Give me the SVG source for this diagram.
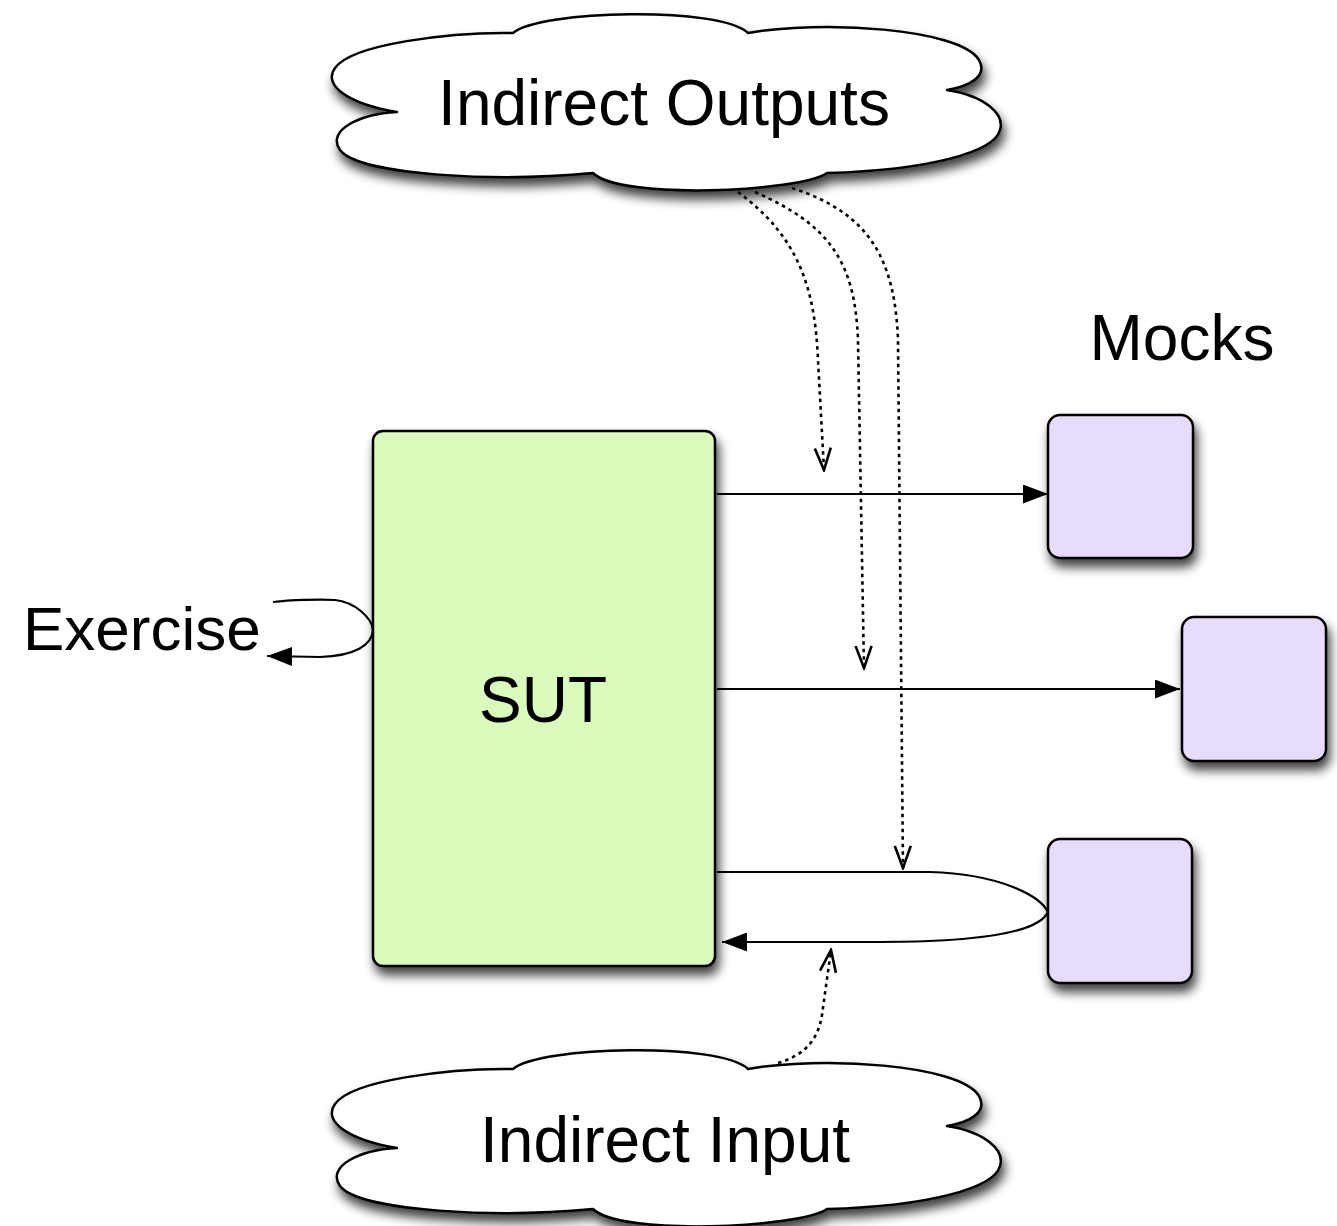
<svg xmlns="http://www.w3.org/2000/svg" width="1337" height="1226" viewBox="0 0 1337 1226">
<style>
.lbl{font-family:"Liberation Sans",Arial,Helvetica,sans-serif;font-size:64px;fill:#000}
.cloud{fill:#fff;stroke:#000;stroke-width:2.5;stroke-linejoin:round}
.sut{fill:#d9fbbb;stroke:#000;stroke-width:2.5}
.mock{fill:#e8dcfc;stroke:#000;stroke-width:2.5}
.solid{fill:none;stroke:#000;stroke-width:2.2}
.dot{fill:none;stroke:#000;stroke-width:2.6;stroke-dasharray:3.5 4}
</style>
<defs>
<filter id="sh" x="-20%" y="-20%" width="150%" height="160%">
<feGaussianBlur in="SourceAlpha" stdDeviation="5.5"/>
<feOffset dx="3" dy="8" result="b"/>
<feComponentTransfer><feFuncA type="linear" slope="0.75"/></feComponentTransfer>
<feMerge><feMergeNode/><feMergeNode in="SourceGraphic"/></feMerge>
</filter>
<marker id="tri" viewBox="0 0 25 19" refX="25" refY="9.5" markerWidth="25" markerHeight="19" markerUnits="userSpaceOnUse" orient="auto">
<path d="M0,0 L25,9.5 L0,19 z" fill="#000"/>
</marker>
<marker id="vee" viewBox="-2 -2 26 22" refX="22" refY="8" markerWidth="26" markerHeight="22" markerUnits="userSpaceOnUse" orient="auto">
<path d="M0,0 L22,8 L0,16" fill="none" stroke="#000" stroke-width="2.6"/>
</marker>
<path id="cloudShape" d="M513,33 C540,10 720,6 748,33 C820,20 960,28 979,60 C988,76 970,86 947,90 C985,96 1005,114 1000,130 C994,152 930,170 827,173 C800,192 620,200 593,173 C500,182 360,176 340,150 C326,130 360,114 397,112 C350,104 322,86 335,68 C352,44 450,32 513,33 Z"/>
</defs>

<g id="connectors">
<path class="solid" d="M717,494 L1048,494" marker-end="url(#tri)"/>
<path class="solid" d="M717,689 L1180,689" marker-end="url(#tri)"/>
<path class="solid" d="M717,872 L930,872 C1000,874 1040,896 1048,912 C1040,930 990,942 880,942 L722,942" marker-end="url(#tri)"/>
<path class="solid" d="M273,602 C290,600 320,599 335,600 C355,602 372,618 373,630 C372,645 355,656 320,657 L267,656" marker-end="url(#tri)"/>
<path class="dot" d="M738,192 C800,238 815,290 818,360 L824,470" marker-end="url(#vee)"/>
<path class="dot" d="M755,192 C830,225 855,262 858,340 L864,668" marker-end="url(#vee)"/>
<path class="dot" d="M792,188 C870,213 895,260 898,340 L903,868" marker-end="url(#vee)"/>
<path class="dot" d="M778,1063 C805,1055 818,1040 822,1015 L831,950" marker-end="url(#vee)"/>
</g>

<g id="indirect-outputs">
<use href="#cloudShape" class="cloud" filter="url(#sh)"/>
<text class="lbl" x="664" y="125" text-anchor="middle">Indirect Outputs</text>
</g>

<g id="indirect-input">
<use href="#cloudShape" class="cloud" filter="url(#sh)" transform="translate(0,1036)"/>
<text class="lbl" x="665" y="1162" text-anchor="middle">Indirect Input</text>
</g>

<g id="sut">
<rect class="sut" x="373" y="431" width="342" height="535" rx="10" filter="url(#sh)"/>
<text class="lbl" x="543" y="722" text-anchor="middle">SUT</text>
</g>

<g id="mock1"><rect class="mock" x="1048" y="415" width="145" height="143" rx="12" filter="url(#sh)"/></g>
<g id="mock2"><rect class="mock" x="1182" y="617" width="144" height="144" rx="12" filter="url(#sh)"/></g>
<g id="mock3"><rect class="mock" x="1048" y="839" width="144" height="144" rx="12" filter="url(#sh)"/></g>

<g id="mocks-label"><text class="lbl" x="1182" y="360" text-anchor="middle">Mocks</text></g>
<g id="exercise-label"><text class="lbl" x="23" y="650" style="font-size:62px">Exercise</text></g>
</svg>
